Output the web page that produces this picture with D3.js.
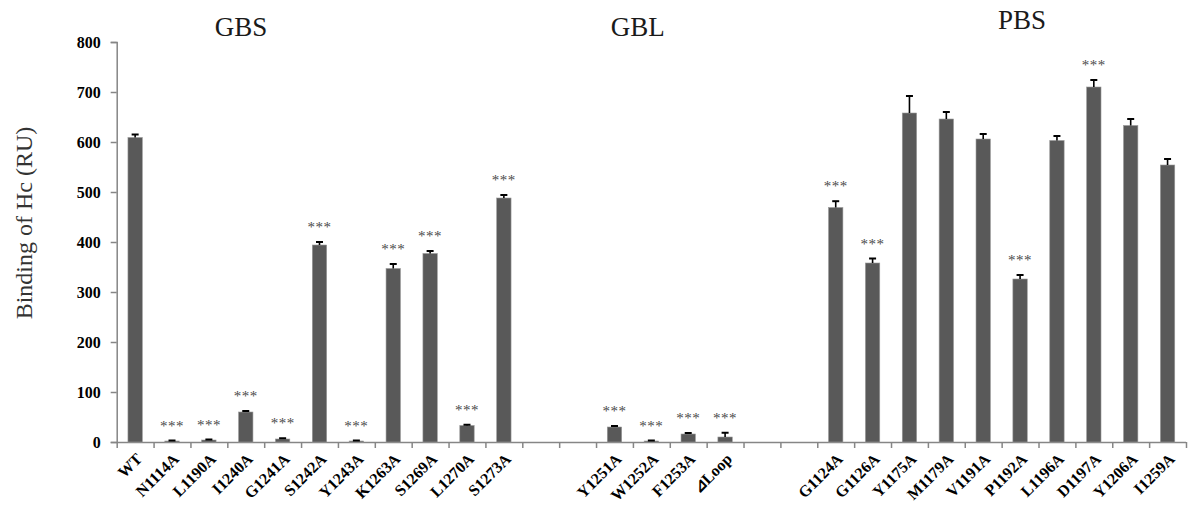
<!DOCTYPE html>
<html>
<head>
<meta charset="utf-8">
<script src="https://cdn.jsdelivr.net/npm/d3@7"></script>
<style>
  html, body { margin: 0; padding: 0; background: #fff; }
  svg { display: block; }
</style>
</head>
<body>
<svg id="chart" width="1188" height="513" viewBox="0 0 1188 513"></svg>
<script>
// ---- data ----
const categories = ["WT","N1114A","L1190A","I1240A","G1241A","S1242A","Y1243A","K1263A","S1269A","L1270A","S1273A",
  null, null,
  "Y1251A","W1252A","F1253A","⊿Loop",
  null, null,
  "G1124A","G1126A","Y1175A","M1179A","V1191A","P1192A","L1196A","D1197A","Y1206A","I1259A"];
const values = [609,2,4,60,6,394,2,347,377,33,488,
  null,null,
  30,2,16,10,
  null,null,
  469,358,658,646,606,326,603,710,633,554];
const errors = [6,1,1,2,1.5,6,1,9,5,1.5,6,
  null,null,
  2,1,2,8.5,
  null,null,
  12.6,9,34,14,10,8,9,14,13,12];
const significant = [false,true,true,true,true,true,true,true,true,true,true,
  null,null,
  true,true,true,true,
  null,null,
  true,true,false,false,false,true,false,true,false,false];
const yTicks = [0,100,200,300,400,500,600,700,800];
const groupNames = ["GBS","GBL","PBS"];
const groupSlot = [3.37, 14.13, 24.55];   // position along the category axis (slot units)
const groupBaseline = [36, 36, 29];
const yTitle = "Binding of Hc (RU)";

// ---- layout ----
const svg = d3.select("#chart");
const mLeft = 116.7, mRight = 1186, mTop = 42, mBottom = 442;
const idx = d3.range(categories.length);
const x = d3.scaleBand().domain(idx).range([mLeft, mRight]).paddingInner(0.61).paddingOuter(0.305);
const xSlot = d3.scaleLinear().domain([0, categories.length]).range([mLeft, mRight]);
const y = d3.scaleLinear().domain([0, 800]).range([mBottom, mTop]);

const axisColor = "#868686";
const serif = "'Liberation Serif', 'Times New Roman', serif";

// y axis
const yAxis = svg.append("g").attr("transform", `translate(${mLeft},0)`)
  .call(d3.axisLeft(y).tickValues(yTicks).tickSize(6).tickPadding(10).tickFormat(d3.format("d")));
yAxis.select(".domain").attr("stroke", axisColor).attr("stroke-width", 1.5);
yAxis.selectAll(".tick line").attr("stroke", axisColor).attr("stroke-width", 1.5);
yAxis.selectAll(".tick text").attr("font-family", serif).attr("font-weight", "bold")
  .attr("font-size", 16).attr("fill", "#000");

// x axis (ticks at slot boundaries)
const xAxis = svg.append("g").attr("transform", `translate(0,${mBottom})`)
  .call(d3.axisBottom(xSlot).tickValues(d3.range(0, categories.length + 1)).tickSize(6).tickFormat(""));
xAxis.select(".domain").attr("stroke", axisColor).attr("stroke-width", 1.5)
  .attr("d", `M${mLeft},0.5H${mRight}`);
xAxis.selectAll(".tick line").attr("stroke", axisColor).attr("stroke-width", 1.5);

// bars
const rows = idx.filter(i => values[i] != null);
svg.append("g").selectAll("rect").data(rows).join("rect")
  .attr("x", i => x(i))
  .attr("width", x.bandwidth())
  .attr("y", i => y(values[i]))
  .attr("height", i => y(0) - y(values[i]))
  .attr("fill", "#595959")
  .attr("stroke", "#9a9a9a")
  .attr("stroke-width", 0.6);

// error bars (upper only)
const eg = svg.append("g").attr("stroke", "#000").attr("stroke-width", 1.6);
eg.selectAll("line.v").data(rows).join("line").attr("class", "v")
  .attr("x1", i => x(i) + x.bandwidth() / 2).attr("x2", i => x(i) + x.bandwidth() / 2)
  .attr("y1", i => y(values[i])).attr("y2", i => y(values[i] + errors[i]));
eg.selectAll("line.c").data(rows).join("line").attr("class", "c")
  .attr("x1", i => x(i) + x.bandwidth() / 2 - 3.5).attr("x2", i => x(i) + x.bandwidth() / 2 + 3.5)
  .attr("y1", i => y(values[i] + errors[i])).attr("y2", i => y(values[i] + errors[i]))
  .attr("stroke-width", 2);

// significance stars
svg.append("g").selectAll("text").data(rows.filter(i => significant[i])).join("text")
  .attr("x", i => x(i) + x.bandwidth() / 2)
  .attr("y", i => y(values[i] + errors[i]) - 10)
  .attr("text-anchor", "middle")
  .attr("font-family", serif).attr("font-size", 15).attr("fill", "#4a4a4a")
  .attr("letter-spacing", 0.5)
  .text("***");

// category labels, rotated -45°
svg.append("g").selectAll("text").data(rows).join("text")
  .attr("x", 0).attr("y", 0)
  .attr("transform", i => "translate(" + (x(i) + x.bandwidth() / 2 + 8) + "," + (mBottom + 18) + ") rotate(-45)")
  .style("text-anchor", "end")
  .style("font-family", serif).style("font-weight", "bold").style("font-size", "16px").style("fill", "#000")
  .text(i => categories[i]);

// group labels
svg.append("g").selectAll("text").data(groupNames).join("text")
  .attr("x", (d, k) => xSlot(groupSlot[k]))
  .attr("y", (d, k) => groupBaseline[k])
  .attr("text-anchor", "middle")
  .attr("font-family", serif).attr("font-size", 27).attr("fill", "#1a1a1a")
  .text(d => d);

// y title
svg.append("text")
  .attr("transform", `translate(32,223) rotate(-90)`)
  .attr("text-anchor", "middle")
  .attr("font-family", serif).attr("font-size", 24).attr("fill", "#333")
  .text(yTitle);
</script>
</body>
</html>
